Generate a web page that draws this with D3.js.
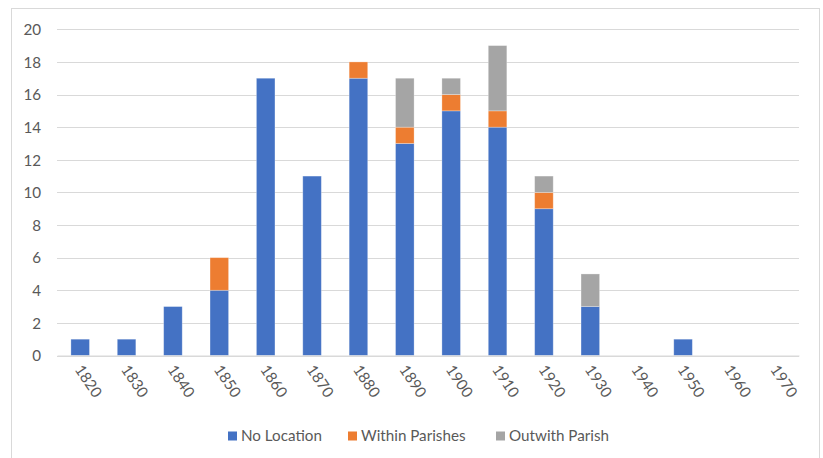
<!DOCTYPE html>
<html>
<head>
<meta charset="utf-8">
<script src="https://cdn.jsdelivr.net/npm/d3@7"></script>
<style>
  html, body { margin: 0; padding: 0; background: #fff; }
  svg { display: block; }
  text { font-family: Lato, "Open Sans", "Liberation Sans", sans-serif; fill: #595959; }
</style>
</head>
<body>
<svg id="chart" width="823" height="458"></svg>
<script>
// Decades on the category axis
const decades = ["1820","1830","1840","1850","1860","1870","1880","1890","1900","1910","1920","1930","1940","1950","1960","1970"];
// Counts per decade for each location group
const noLocation     = [1, 1, 3, 4, 17, 11, 17, 13, 15, 14, 9, 3, 0, 1, 0, 0];
const withinParishes = [0, 0, 0, 2, 0, 0, 1, 1, 1, 1, 1, 0, 0, 0, 0, 0];
const outwithParish  = [0, 0, 0, 0, 0, 0, 0, 3, 1, 4, 1, 2, 0, 0, 0, 0];
const seriesNames  = ["No Location", "Within Parishes", "Outwith Parish"];
const seriesColors = ["#4472C4", "#ED7D31", "#A5A5A5"];
const yTicks = [0, 2, 4, 6, 8, 10, 12, 14, 16, 18, 20];

const rows = decades.map((d, i) => ({
  decade: d,
  "No Location": noLocation[i],
  "Within Parishes": withinParishes[i],
  "Outwith Parish": outwithParish[i]
}));

const svg = d3.select("#chart");
const plot = { left: 57, right: 799, top: 29.3, bottom: 355.5 };
const FS = 15.2;

// outer chart frame
svg.append("rect")
  .attr("x", 11.5).attr("y", 8.5)
  .attr("width", 808).attr("height", 470)
  .attr("fill", "#fff").attr("stroke", "#d9d9d9").attr("stroke-width", 1);

const x = d3.scaleBand().domain(decades).range([plot.left, plot.right]).paddingInner(0.6).paddingOuter(0.3);
const y = d3.scaleLinear().domain([0, 20]).range([plot.bottom, plot.top]);

// horizontal gridlines
svg.append("g")
  .selectAll("line").data(yTicks).join("line")
  .attr("x1", plot.left).attr("x2", plot.right)
  .attr("y1", d => Math.round(y(d)) + 0.5).attr("y2", d => Math.round(y(d)) + 0.5)
  .attr("stroke", "#d9d9d9").attr("stroke-width", 1);

// y axis labels
const yAxis = d3.axisLeft(y).tickValues(yTicks).tickSize(0).tickPadding(0);
const gy = svg.append("g").attr("transform", `translate(${plot.left - 16},0)`).call(yAxis);
gy.select(".domain").remove();
gy.selectAll("text").attr("font-size", FS).style("font-family", "Lato, 'Open Sans', sans-serif").attr("fill", "#595959").attr("dy", "0.35em");

// stacked bars
const stack = d3.stack().keys(seriesNames)(rows);
const color = d3.scaleOrdinal().domain(seriesNames).range(seriesColors);
svg.append("g")
  .selectAll("g").data(stack).join("g")
  .attr("fill", d => color(d.key))
  .selectAll("rect").data(d => d.filter(p => p[1] - p[0] > 0)).join("rect")
  .attr("x", d => x(d.data.decade))
  .attr("width", x.bandwidth())
  .attr("y", d => y(d[1]))
  .attr("height", d => y(d[0]) - y(d[1]))
  .attr("stroke", "rgba(255,255,255,0.35)").attr("stroke-width", 0.8);

// x axis labels, rotated
const xAxis = d3.axisBottom(x).tickSize(0).tickPadding(0);
const gx = svg.append("g").attr("transform", `translate(0,${plot.bottom})`).call(xAxis);
gx.select(".domain").attr("stroke", "#d9d9d9");
gx.selectAll("text")
  .attr("font-size", FS)
  .style("font-family", "Lato, 'Open Sans', sans-serif")
  .attr("fill", "#595959")
  .attr("text-anchor", "start")
  .attr("dy", null).attr("y", 0)
  .attr("transform", "translate(-6,14) rotate(56)");

// legend
const legendX = [228, 348, 496];
const legend = svg.append("g").selectAll("g").data(seriesNames).join("g")
  .attr("transform", (d, i) => `translate(${legendX[i]},436)`);
legend.append("rect").attr("x", 0).attr("y", -4.5).attr("width", 9).attr("height", 9).attr("fill", d => color(d));
legend.append("text").attr("x", 13).attr("y", 0).attr("dy", "0.35em")
  .attr("font-size", FS).text(d => d);
</script>
</body>
</html>
